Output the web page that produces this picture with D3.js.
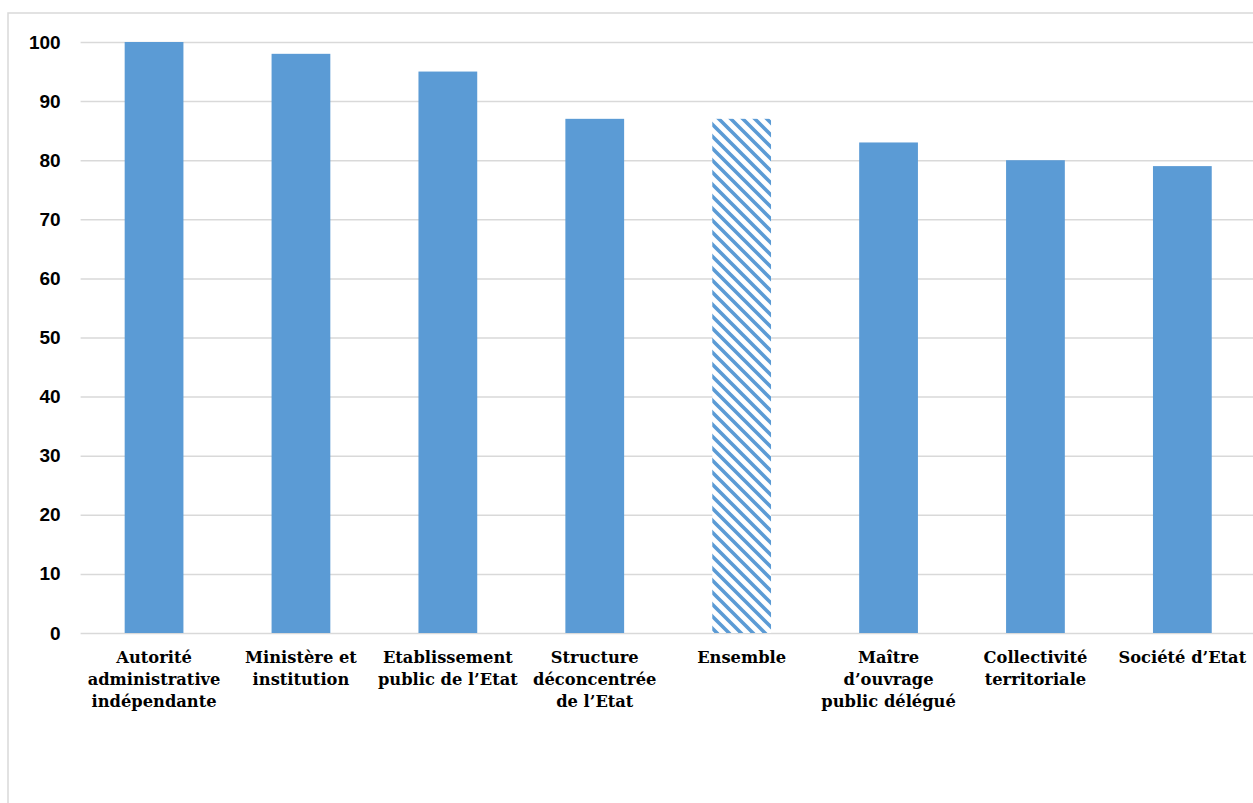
<!DOCTYPE html>
<html>
<head>
<meta charset="utf-8">
<script src="https://cdn.jsdelivr.net/npm/d3@7"></script>
<style>
  html, body { margin: 0; padding: 0; background: #fff; }
  svg { display: block; }
</style>
</head>
<body>
<svg id="chart" width="1253" height="803"></svg>
<script>
const categories = [
  "Autorité\nadministrative\nindépendante",
  "Ministère et\ninstitution",
  "Etablissement\npublic de l’Etat",
  "Structure\ndéconcentrée\nde l’Etat",
  "Ensemble",
  "Maître\nd’ouvrage\npublic délégué",
  "Collectivité\nterritoriale",
  "Société d’Etat"
];
const values = [100, 98, 95, 87, 87, 83, 80, 79];
const hatched = [false, false, false, false, true, false, false, false];
const yTicks = [0, 10, 20, 30, 40, 50, 60, 70, 80, 90, 100];

const W = 1253, H = 803;
const margin = { left: 80.6, right: -2.8, top: 42, bottom: 170 };
const svg = d3.select("#chart");

const blue = "#5B9BD5";
const grid = "#D9D9D9";

// pattern for hatched bar
const defs = svg.append("defs");
const pat = defs.append("pattern")
  .attr("id", "hatch")
  .attr("patternUnits", "userSpaceOnUse")
  .attr("width", 12).attr("height", 12);
pat.append("rect").attr("width", 12).attr("height", 12).attr("fill", "#fff");
pat.append("path")
  .attr("d", "M-3,9 L3,15 M-1,-1 L13,13 M9,-3 L15,3")
  .attr("stroke", blue).attr("stroke-width", 3.6).attr("fill", "none");

// chart border
svg.append("rect")
  .attr("x", 8).attr("y", 13)
  .attr("width", W + 20).attr("height", H + 20)
  .attr("fill", "#fff").attr("stroke", grid).attr("stroke-width", 1.5);

const x = d3.scaleBand()
  .domain(categories)
  .range([margin.left, W - margin.right])
  .paddingInner(0.6).paddingOuter(0.3);

const y = d3.scaleLinear().domain([0, 100]).range([633, 42]);

// gridlines
const gAxisY = svg.append("g")
  .attr("transform", `translate(${margin.left},0)`)
  .call(d3.axisLeft(y).tickValues(yTicks).tickSize(-(W - margin.left + 5)).tickPadding(20).tickFormat(d3.format("d")));
gAxisY.select(".domain").remove();
gAxisY.selectAll(".tick line").attr("stroke", grid).attr("stroke-width", 1.5);
gAxisY.selectAll(".tick text")
  .attr("font-family", "'Liberation Sans', Arial, sans-serif")
  .attr("font-weight", "bold")
  .attr("font-size", 19)
  .attr("fill", "#000");

// bars
svg.append("g").selectAll("rect")
  .data(categories)
  .join("rect")
  .attr("x", d => x(d))
  .attr("width", x.bandwidth())
  .attr("y", (d, i) => y(values[i]))
  .attr("height", (d, i) => y(0) - y(values[i]))
  .attr("fill", (d, i) => hatched[i] ? "url(#hatch)" : blue);

// x axis labels
const gAxisX = svg.append("g")
  .attr("transform", `translate(0,${y(0)})`)
  .call(d3.axisBottom(x).tickSize(0).tickFormat(""));
gAxisX.select(".domain").remove();
gAxisX.selectAll(".tick").each(function(d) {
  const lines = d.split("\n");
  const t = d3.select(this).append("text")
    .attr("text-anchor", "middle")
    .attr("font-family", "'DejaVu Serif', serif")
    .attr("font-weight", "bold")
    .attr("font-size", 16.3)
    .attr("fill", "#000");
  lines.forEach((ln, i) => {
    t.append("tspan").attr("x", 0).attr("y", 30 + i * 22).text(ln);
  });
});
</script>
</body>
</html>
